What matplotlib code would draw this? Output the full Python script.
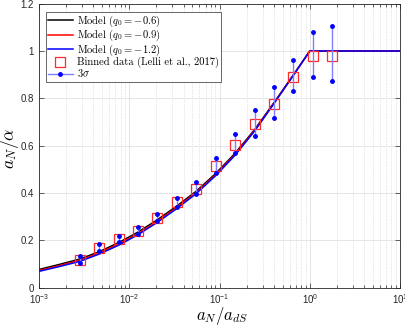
import matplotlib
matplotlib.use("Agg")
import matplotlib.pyplot as plt
from matplotlib.lines import Line2D
from matplotlib.ticker import LogLocator, NullFormatter

plt.rcParams['mathtext.fontset'] = 'cm'
plt.rcParams['font.family'] = ['Liberation Sans', 'DejaVu Sans']

# model curves
model_x = [1e-3, 1.63e-3, 2.83e-3, 4.64e-3, 7.69e-3, 1.25e-2, 2.03e-2, 3.33e-2,
           5.5e-2, 9.1e-2, 0.148, 0.245, 0.398, 0.647, 1.0, 10.0]
model_q06 = [0.077, 0.097, 0.121, 0.152, 0.191, 0.235, 0.286, 0.344,
             0.407, 0.483, 0.567, 0.668, 0.780, 0.895, 1.0, 1.0]
model_q09 = [0.073, 0.092, 0.116, 0.147, 0.185, 0.229, 0.280, 0.338,
             0.402, 0.478, 0.563, 0.665, 0.778, 0.894, 1.0, 1.0]
model_q12 = [0.069, 0.088, 0.111, 0.142, 0.180, 0.224, 0.275, 0.333,
             0.397, 0.474, 0.559, 0.662, 0.776, 0.893, 1.0, 1.0]

# binned data (Lelli et al., 2017) with 3 sigma range
data_x = [2.83e-3, 4.64e-3, 7.7e-3, 1.25e-2, 2.03e-2, 3.35e-2, 5.5e-2,
          9.1e-2, 0.148, 0.245, 0.40, 0.66, 1.08, 1.75]
data_y = [0.116, 0.167, 0.206, 0.241, 0.296, 0.360, 0.419,
          0.516, 0.605, 0.693, 0.778, 0.892, 0.981, 0.981]
data_hi = [0.135, 0.183, 0.220, 0.255, 0.313, 0.379, 0.447,
           0.548, 0.649, 0.751, 0.847, 0.964, 1.081, 1.104]
data_lo = [0.103, 0.155, 0.195, 0.228, 0.282, 0.340, 0.396,
           0.486, 0.568, 0.641, 0.719, 0.832, 0.891, 0.875]

yticks = [0, 0.2, 0.4, 0.6, 0.8, 1.0, 1.2]
yticklabels = ['0', '0.2', '0.4', '0.6', '0.8', '1', '1.2']
xticks = [1e-3, 1e-2, 1e-1, 1e0, 1e1]
xticklabels = [r'$\mathregular{10^{-3}}$', r'$\mathregular{10^{-2}}$', r'$\mathregular{10^{-1}}$',
               r'$\mathregular{10^{0}}$', r'$\mathregular{10^{1}}$']

fig = plt.figure(figsize=(4.05, 3.26), dpi=100)
ax = fig.add_axes([0.0963, 0.1175, 0.8914, 0.8712])

ax.plot(model_x, model_q06, color='k', lw=1.1)
ax.plot(model_x, model_q09, color=(1, 0, 0), lw=1.1)
ax.plot(model_x, model_q12, color=(0, 0, 1), lw=1.1)

ax.plot(data_x, data_y, 's', ms=6.5, mfc='none', mec='#ff2a2a', mew=0.9)
ax.vlines(data_x, data_lo, data_hi, color=(0.5, 0.5, 1), lw=1.0)
ax.plot(data_x, data_hi, '.', color='b', ms=5)
ax.plot(data_x, data_lo, '.', color='b', ms=5)

ax.set_xscale('log')
ax.set_xlim(1e-3, 10)
ax.set_ylim(0, 1.2)
ax.set_xticks(xticks)
ax.set_xticklabels(xticklabels)
ax.xaxis.set_minor_locator(LogLocator(base=10, subs=range(2, 10), numticks=20))
ax.xaxis.set_minor_formatter(NullFormatter())
ax.set_yticks(yticks)
ax.set_yticklabels(yticklabels)

ax.tick_params(which='both', direction='in', top=True, right=True,
               colors='0.15', labelsize=7, width=0.5)
ax.tick_params(which='major', length=3.5)
ax.tick_params(which='minor', length=2)
for s in ax.spines.values():
    s.set_color('0.15')
    s.set_linewidth(0.6)

ax.grid(which='major', color='0.88', lw=0.6, ls='-')
ax.grid(which='minor', axis='x', color='0.8', lw=0.5, ls=':')
ax.set_axisbelow(True)

ax.set_xlabel(r'$a_N/a_{dS}$', fontsize=12)
ax.set_ylabel(r'$a_N/\alpha$', fontsize=12.5)
ax.xaxis.set_label_coords(0.507, -0.062)
ax.yaxis.set_label_coords(-0.05, 0.49)

handles = [
    Line2D([], [], color='k', lw=1.1),
    Line2D([], [], color=(1, 0, 0), lw=1.1),
    Line2D([], [], color=(0, 0, 1), lw=1.1),
    Line2D([], [], ls='none', marker='s', ms=6.5, mfc='none', mec='#ff2a2a', mew=0.9),
    Line2D([], [], color=(0.5, 0.5, 1), lw=1.0, marker='.', mfc='b', mec='b', ms=5),
]
labels = [
    r'Model ($q_0 = -0.6$)',
    r'Model ($q_0 = -0.9$)',
    r'Model ($q_0 = -1.2$)',
    'Binned data (Lelli et al., 2017)',
    r'$3\sigma$',
]
leg = ax.legend(handles, labels, loc='upper left', bbox_to_anchor=(0.02, 0.972),
                borderaxespad=0, prop={'family': 'cmr10', 'size': 7.6},
                fancybox=False, framealpha=1,
                edgecolor='0.3', handlelength=2.3, handletextpad=0.4,
                labelspacing=-0.08, borderpad=0.2, numpoints=1)
leg.get_frame().set_linewidth(0.6)

fig.savefig('out.png', dpi=100)
